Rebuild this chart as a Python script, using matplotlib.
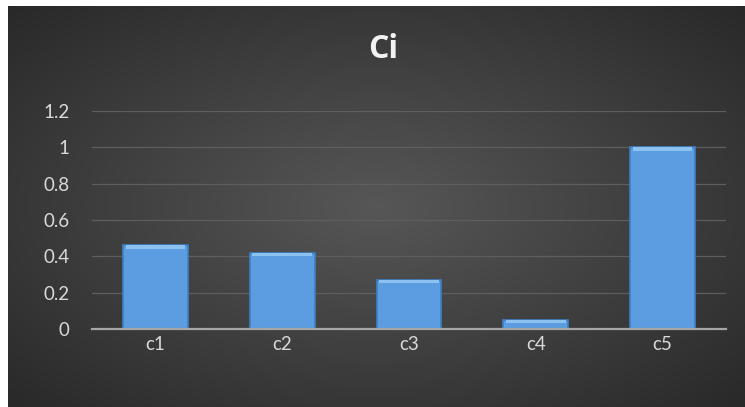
import numpy as np
import matplotlib
matplotlib.use('Agg')
from matplotlib import pyplot as plt

categories = ['c1', 'c2', 'c3', 'c4', 'c5']
values = [0.46, 0.42, 0.27, 0.05, 1.0]
yticks = [0, 0.2, 0.4, 0.6, 0.8, 1.0, 1.2]
ytick_labels = ['0', '0.2', '0.4', '0.6', '0.8', '1', '1.2']

plt.rcParams['font.family'] = ['Lato', 'DejaVu Sans']

fig = plt.figure(figsize=(7.45, 4.07), dpi=100)
fig.patch.set_facecolor('white')

# radial gradient background
bg = fig.add_axes([8 / 745, 0, 1 - 8 / 745, 1 - 6 / 407])
yy, xx = np.mgrid[-1:1:300j, -1:1:500j]
r = np.sqrt(xx ** 2 + yy ** 2) / np.sqrt(2)
shade = 0.34 - 0.18 * r
bg.imshow(np.dstack([shade, shade, shade]), aspect='auto', extent=[0, 1, 0, 1])
bg.set_axis_off()

ax = fig.add_axes([92 / 745, 1 - 329 / 407, (726 - 92) / 745, (329 - 111) / 407])
ax.set_facecolor('none')
x = np.arange(len(categories))
ax.bar(x, values, width=0.51, color='#5b9de0', edgecolor='#3f7fc4', linewidth=1.2, zorder=3)
# lighter bevel at the top of each bar
tops = [v - min(0.018, v * 0.4) for v in values]
ax.bar(x, [v - t for v, t in zip(values, tops)], bottom=tops, width=0.47,
       color='#8cc2f0', linewidth=0, zorder=4)

ax.set_xlim(-0.5, len(categories) - 0.5)
ax.set_ylim(0, 1.2)
ax.set_yticks(yticks)
ax.set_yticklabels(ytick_labels)
ax.set_xticks(x)
ax.set_xticklabels(categories)
ax.grid(axis='y', color='#5e5e5e', linewidth=0.9, zorder=0)
ax.tick_params(length=0, colors='#d9d9d9', labelsize=13.5)
ax.tick_params(axis='y', pad=16)
ax.tick_params(axis='x', pad=5)
for s in ['top', 'right', 'left']:
    ax.spines[s].set_visible(False)
ax.spines['bottom'].set_color('#a6a6a6')
ax.spines['bottom'].set_linewidth(1.6)
ax.spines['bottom'].set_zorder(5)

fig.text(383 / 745, 1 - 50 / 407, 'Ci', ha='center', va='center', fontsize=23,
         fontweight='bold', color='#f2f2f2', family=['Open Sans', 'DejaVu Sans'])

fig.savefig('out.png', dpi=100)
